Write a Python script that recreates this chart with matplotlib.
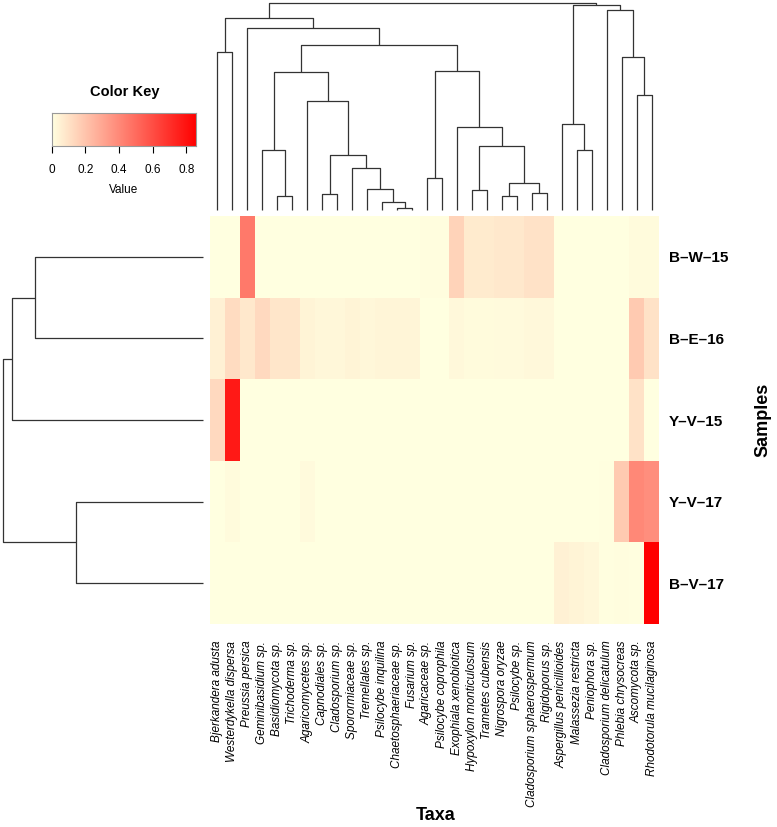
import numpy as np
import matplotlib
matplotlib.use('Agg')
import matplotlib.pyplot as plt
from matplotlib.colors import LinearSegmentedColormap

plt.rcParams['font.family'] = ['Liberation Sans', 'DejaVu Sans']

taxa = ['Bjerkandera adusta', 'Westerdykella dispersa', 'Preussia persica',
        'Geminibasidium sp.', 'Basidiomycota sp.', 'Trichoderma sp.',
        'Agaricomycetes sp.', 'Capnodiales sp.', 'Cladosporium sp.',
        'Sporormiaceae sp.', 'Tremellales sp.', 'Psilocybe inquilina',
        'Chaetosphaeriaceae sp.', 'Fusarium sp.', 'Agaricaceae sp.',
        'Psilocybe coprophila', 'Exophiala xenobiotica', 'Hypoxylon monticulosum',
        'Trametes cubensis', 'Nigrospora oryzae', 'Psilocybe sp.',
        'Cladosporium sphaerospermum', 'Rigidoporus sp.', 'Aspergillus penicillioides',
        'Malassezia restricta', 'Peniophora sp.', 'Cladosporium delicatulum',
        'Phlebia chrysocreas', 'Ascomycota sp.', 'Rhodotorula mucilaginosa']

samples = ['B–W–15', 'B–E–16', 'Y–V–15', 'Y–V–17', 'B–V–17']

# relative abundance per sample, in column order above
b_w_15 = [0, 0, 0.45, 0, 0, 0, 0, 0, 0, 0, 0, 0, 0, 0, 0.01, 0.01, 0.15, 0.07, 0.07, 0.08,
          0.08, 0.10, 0.10, 0, 0, 0, 0, 0, 0.015, 0.015]
b_e_16 = [0.05, 0.12, 0.08, 0.13, 0.085, 0.085, 0.04, 0.03, 0.03, 0.04, 0.03, 0.035, 0.035, 0.035,
          0, 0, 0.025, 0.015, 0.015, 0.02, 0.02, 0.025, 0.025, 0, 0, 0, 0, 0, 0.18, 0.10]
y_v_15 = [0.13, 0.77, 0, 0, 0, 0, 0, 0, 0, 0, 0, 0, 0, 0, 0, 0, 0, 0, 0, 0,
          0, 0, 0, 0, 0, 0, 0, 0, 0.10, 0]
y_v_17 = [0, 0.015, 0, 0, 0, 0, 0.02, 0, 0, 0, 0, 0, 0, 0, 0, 0, 0, 0, 0, 0,
          0, 0, 0, 0, 0, 0, 0.005, 0.18, 0.40, 0.38]
b_v_17 = [0, 0, 0, 0, 0, 0, 0, 0, 0, 0, 0, 0, 0, 0, 0, 0, 0, 0, 0, 0,
          0, 0, 0, 0.05, 0.04, 0.03, 0.005, 0.01, 0.005, 0.857]

# dendrograms: (left, right, height); leaves are 0..n-1, merge k is node n+k
col_merges = [(12, 13, 0.010), (11, 30, 0.039), (4, 5, 0.066), (19, 20, 0.069),
              (7, 8, 0.079), (21, 22, 0.081), (17, 18, 0.097), (10, 31, 0.101),
              (33, 35, 0.129), (14, 15, 0.156), (9, 37, 0.204), (34, 40, 0.266),
              (3, 32, 0.291), (24, 25, 0.291), (36, 38, 0.309), (16, 44, 0.402),
              (23, 43, 0.414), (6, 41, 0.525), (42, 47, 0.668), (39, 45, 0.673),
              (28, 29, 0.556), (0, 1, 0.763), (27, 50, 0.739), (48, 49, 0.797),
              (2, 53, 0.881), (26, 52, 0.966), (51, 54, 0.926), (46, 55, 0.992),
              (56, 57, 1.0)]
row_merges = [(0, 1, 0.840), (3, 4, 0.634), (2, 5, 0.954), (7, 6, 1.0)]


def dendro_segments(merges, n):
    pos = {i: i + 0.5 for i in range(n)}
    hgt = {i: 0.0 for i in range(n)}
    segs = []
    for k, (a, b, h) in enumerate(merges):
        segs.append(([pos[a], pos[a], pos[b], pos[b]], [hgt[a], h, h, hgt[b]]))
        pos[n + k] = (pos[a] + pos[b]) / 2
        hgt[n + k] = h
    return segs


W, H = 777, 827
fig = plt.figure(figsize=(W / 100, H / 100), dpi=100)


def px_axes(x0, y0, x1, y1):
    return fig.add_axes([x0 / W, 1 - y1 / H, (x1 - x0) / W, (y1 - y0) / H])


data = np.array([b_w_15, b_e_16, y_v_15, y_v_17, b_v_17])
vmax = data.max()
cmap = LinearSegmentedColormap.from_list('ly_red', ['#FFFFE0', '#FF0000'])
line_kw = dict(color='#333333', lw=0.9, clip_on=False, solid_capstyle='butt')

# heatmap
ax = px_axes(210, 216, 659, 624)
ax.pcolormesh(np.arange(len(taxa) + 1), np.arange(len(samples) + 1), data,
              cmap=cmap, vmin=0, vmax=vmax)
ax.set_xlim(0, len(taxa))
ax.set_ylim(len(samples), 0)
for s in ax.spines.values():
    s.set_visible(False)
ax.set_xticks(np.arange(len(taxa)) + 0.5)
ax.set_xticklabels(taxa, rotation=90, fontsize=8.5, style='italic')
ax.yaxis.tick_right()
ax.set_yticks(np.arange(len(samples)) + 0.5)
ax.set_yticklabels(samples, fontsize=11, fontweight='bold')
ax.tick_params(axis='x', length=0, pad=12)
ax.tick_params(axis='y', length=0, pad=7)

# column dendrogram
axc = px_axes(210, 0, 659, 210)
for xs, ys in dendro_segments(col_merges, len(taxa)):
    axc.plot(xs, ys, **line_kw)
axc.set_xlim(0, len(taxa))
axc.set_ylim(0, 210 / 207)
axc.axis('off')

# row dendrogram
axr = px_axes(0, 216, 203, 624)
for ps, hs in dendro_segments(row_merges, len(samples)):
    axr.plot(hs, ps, **line_kw)
axr.set_xlim(203 / 200.3, 0)
axr.set_ylim(len(samples), 0)
axr.axis('off')

# colour key
axk = px_axes(51.7, 112.7, 196, 146)
grad = np.linspace(0, vmax, 256).reshape(1, -1)
axk.imshow(grad, aspect='auto', cmap=cmap, vmin=0, vmax=vmax,
           extent=[0, vmax, 0, 1])
axk.set_xlim(0, vmax)
axk.set_yticks([])
axk.set_xticks([0, 0.2, 0.4, 0.6, 0.8])
axk.set_xticklabels(['0', '0.2', '0.4', '0.6', '0.8'], fontsize=8.5)
axk.tick_params(axis='x', length=5, width=0.8, pad=8)
axk.set_xlabel('Value', fontsize=8.5, labelpad=6)
for s in axk.spines.values():
    s.set_color('#999999')
    s.set_linewidth(0.8)
fig.text(125 / W, 1 - 91.7 / H, 'Color Key', ha='center', va='center',
         fontsize=10.5, fontweight='bold')

fig.text(763 / W, 1 - 420 / H, 'Samples', rotation=90, ha='center', va='center',
         fontsize=13, fontweight='bold')
fig.text(436 / W, 1 - 816 / H, 'Taxa', ha='center', va='center',
         fontsize=13, fontweight='bold')

fig.savefig('out.png', dpi=100)
